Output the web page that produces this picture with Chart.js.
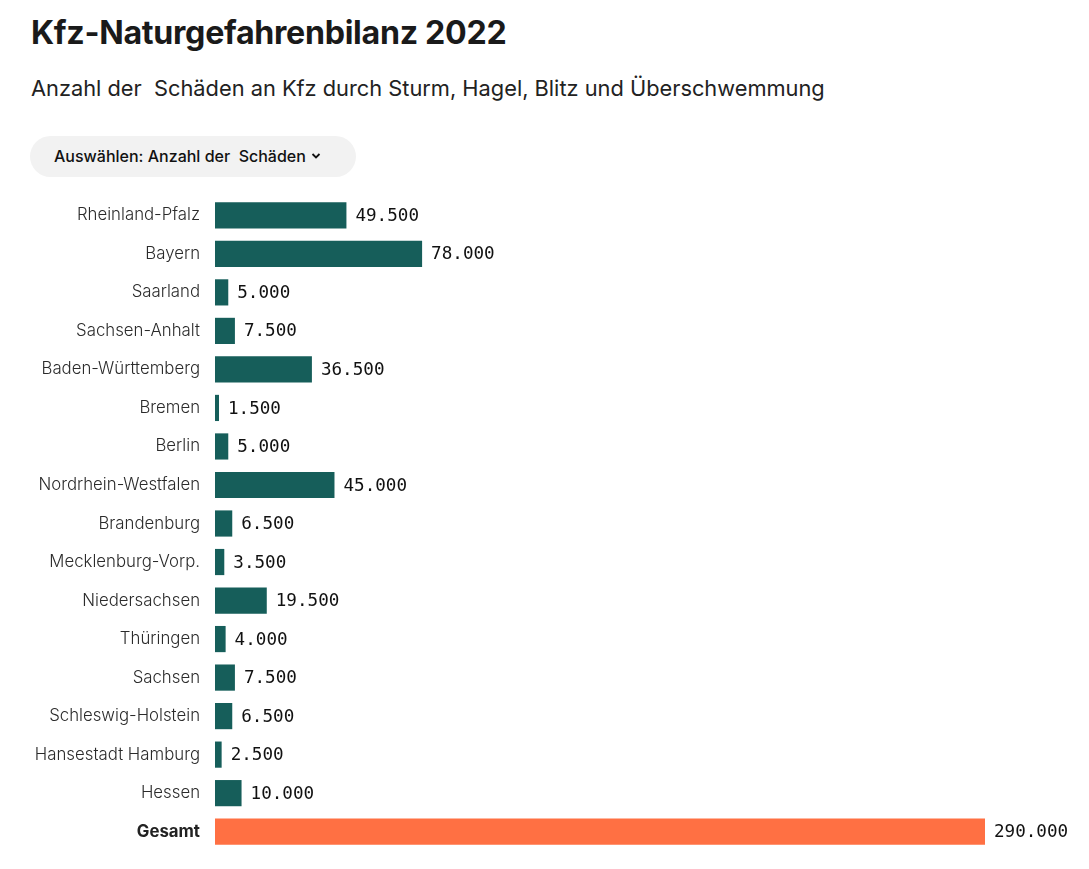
<!DOCTYPE html>
<html>
<head>
<meta charset="utf-8">
<script src="https://cdn.jsdelivr.net/npm/chart.js@4"></script>
<style>
  body { margin: 0; background: #fff; font-family: Inter, "Noto Sans", sans-serif; color: #1a1a1a; }
  h1 { position: absolute; left: 31px; top: 13px; margin: 0; font-size: 32.2px; font-weight: 700; letter-spacing: -0.3px; }
  .sub { position: absolute; left: 31px; top: 75px; font-size: 21.8px; font-weight: 400; color: #222; }
  .pill { position: absolute; left: 30px; top: 136px; width: 326px; height: 41px; border-radius: 21px; background: #f2f2f2;
          font-size: 16px; font-weight: 500; line-height: 41px; box-sizing: border-box; padding-left: 24px; color: #111; z-index: 2; }
  .pill svg { vertical-align: middle; margin-left: 5px; margin-top: -3px; }
  #wrap { position: absolute; left: 0; top: 171px; width: 1089px; height: 705px; }
</style>
</head>
<body>
<h1>Kfz-Naturgefahrenbilanz 2022</h1>
<div class="sub">Anzahl der&nbsp; Schäden an Kfz durch Sturm, Hagel, Blitz und Überschwemmung</div>
<div class="pill">Auswählen: Anzahl der&nbsp; Schäden<svg width="10" height="8" viewBox="0 0 10 8"><path d="M1.5 2 L5 5.5 L8.5 2" stroke="#111" stroke-width="1.8" fill="none"/></svg></div>
<div id="wrap"><canvas id="chart"></canvas></div>
<script>
const states = ['Rheinland-Pfalz', 'Bayern', 'Saarland', 'Sachsen-Anhalt', 'Baden-Württemberg', 'Bremen', 'Berlin',
  'Nordrhein-Westfalen', 'Brandenburg', 'Mecklenburg-Vorp.', 'Niedersachsen', 'Thüringen', 'Sachsen',
  'Schleswig-Holstein', 'Hansestadt Hamburg', 'Hessen', 'Gesamt'];
const schaeden = [49500, 78000, 5000, 7500, 36500, 1500, 5000, 45000, 6500, 3500, 19500, 4000, 7500, 6500, 2500, 10000, 290000];
const totalLabel = 'Gesamt';

const barColors = states.map(s => s === totalLabel ? '#ff7043' : '#165e5a');

const fmt = v => v.toLocaleString('de-DE');

// value labels right of each bar
const valueLabels = {
  id: 'valueLabels',
  afterDatasetsDraw(chart) {
    const ctx = chart.ctx;
    const meta = chart.getDatasetMeta(0);
    ctx.save();
    ctx.font = '17.6px "DejaVu Sans Mono", "Liberation Mono", monospace';
    ctx.fillStyle = '#111';
    ctx.textBaseline = 'middle';
    meta.data.forEach((bar, i) => {
      ctx.fillText(fmt(schaeden[i]), bar.x + 9, bar.y + 1);
    });
    ctx.restore();
  }
};

new Chart(document.getElementById('chart'), {
  type: 'bar',
  data: {
    labels: states,
    datasets: [{
      data: schaeden,
      backgroundColor: barColors,
      barPercentage: 0.68,
      categoryPercentage: 1
    }]
  },
  options: {
    indexAxis: 'y',
    responsive: true,
    maintainAspectRatio: false,
    animation: false,
    layout: { padding: { left: 0, right: 104, top: 0, bottom: 0 } },
    plugins: { legend: { display: false }, tooltip: { enabled: false } },
    scales: {
      x: { display: false, min: 0, max: 290000 },
      y: {
        grid: { display: false, drawTicks: false },
        border: { display: false },
        afterFit(scale) { scale.width = 215; },
        ticks: {
          padding: 15,
          color: ctx => ctx.index === 16 ? '#222' : '#2b2b2b',
          font: ctx => ({
            family: 'Inter, "Noto Sans", sans-serif',
            size: 16.8,
            weight: ctx.index === 16 ? 'bold' : '300'
          })
        }
      }
    }
  },
  plugins: [valueLabels]
});
</script>
</body>
</html>
